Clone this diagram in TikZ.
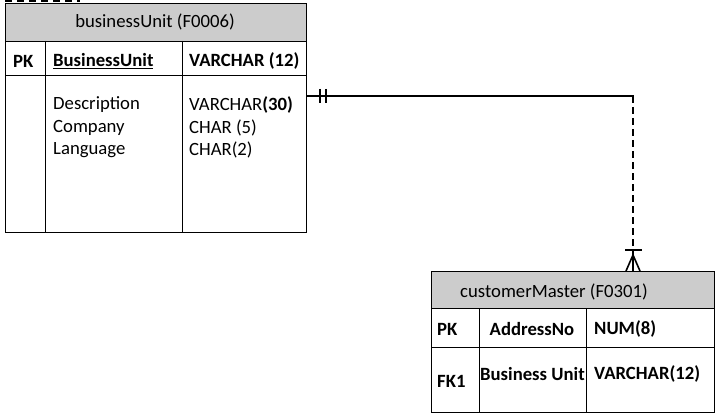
\documentclass[tikz,border=0pt]{standalone}
\usepackage{fontspec}
\setmainfont{Carlito}
\usetikzlibrary{arrows.meta}
\begin{document}
\begin{tikzpicture}[x=1pt,y=-1pt,
  tbl/.style={draw=black,line width=0.9pt},
  hdr/.style={fill=black!20,draw=black,line width=0.9pt},
  txt/.style={font=\fontsize{18.7}{22}\selectfont,inner sep=0pt},
  bld/.style={font=\fontsize{18.7}{22}\selectfont\bfseries,inner sep=0pt},
  rel/.style={line width=2.6pt},
]
\useasboundingbox (0,0) rectangle (720,417);
% artifact at top
\draw[line width=3pt,dash pattern=on 7pt off 5pt] (5,1) -- (80,1);
% table 1
\draw[hdr] (5,3) rectangle (306,41);
\draw[tbl] (5,41) rectangle (306,232);
\draw[tbl] (5,75) -- (306,75);
\draw[tbl] (45,41) -- (45,232);
\draw[tbl] (182,41) -- (182,232);
\node[txt] (t1) at (155,22) {businessUnit (F0006)};
\node[bld,anchor=west] (pk1) at (13,61) {PK};
\node[bld,anchor=west] (bu) at (53,61) {\underline{BusinessUnit}};
\node[bld,anchor=west] (vc) at (189,61) {VARCHAR (12)};
\node[txt,anchor=west] (d1) at (53,105) {Description};
\node[txt,anchor=west] (d2) at (53,128) {Company};
\node[txt,anchor=west] (d3) at (53,150) {Language};
\node[txt,anchor=west] (e1) at (189,105) {VARCHAR\textbf{(30)}};
\node[txt,anchor=west] (e2) at (189,128) {CHAR (5)};
\node[txt,anchor=west] (e3) at (189,150) {CHAR(2)};
% table 2
\draw[hdr] (431,271) rectangle (714,308);
\draw[tbl] (431,308) rectangle (714,412);
\draw[tbl] (431,347) -- (714,347);
\draw[tbl] (479,308) -- (479,412);
\draw[tbl] (586,308) -- (586,412);
\node[txt] (t2) at (554,292) {customerMaster (F0301)};
\node[bld,anchor=west] (pk2) at (437,329) {PK};
\node[bld] (an) at (532,329) {AddressNo};
\node[bld,anchor=west] (nm) at (594,329) {NUM(8)};
\node[bld,anchor=west] (fk) at (437,381) {FK1};
\node[bld,anchor=west] (bu2) at (480,374) {Business Unit};
\node[bld,anchor=west] (vc2) at (594,374) {VARCHAR(12)};
% connector
\coordinate (a) at (306,96);
\coordinate (c) at (634,96);
\coordinate (b) at (633,271);
\draw[rel] (a) -- (c);
\draw[line width=2.6pt,dash pattern=on 7pt off 4pt] (633,96) -- (b);
\draw[line width=1.8pt] (320,89) -- (320,103) (326,89) -- (326,103);
\draw[line width=1.8pt] (625,250) -- (642,250);
\draw[line width=1.6pt] (626,271) -- (633,255) -- (640,271) (633,250) -- (633,271);
\end{tikzpicture}
\end{document}
